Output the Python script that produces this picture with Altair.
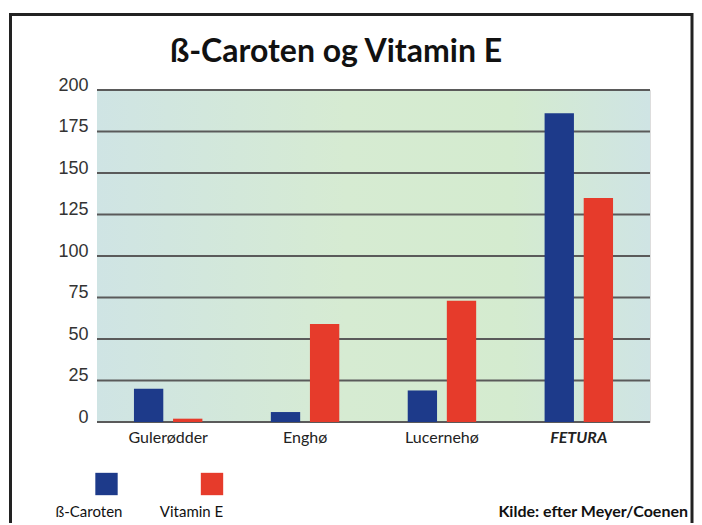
import altair as alt
import pandas as pd

categories = ["Gulerødder", "Enghø", "Lucernehø", "FETURA"]
series_names = ["ß-Caroten", "Vitamin E"]
beta_caroten = [20, 6, 19, 186]
vitamin_e = [2, 59, 73, 135]
y_ticks = [0, 25, 50, 75, 100, 125, 150, 175, 200]
colors = ["#1d3a8a", "#e63b2b"]
title_text = "ß-Caroten og Vitamin E"
source_text = "Kilde: efter Meyer/Coenen"

W, H = 553, 332
FONT = "Lato"

rows = []
for c, b, v in zip(categories, beta_caroten, vitamin_e):
    rows.append({"kategori": c, "serie": series_names[0], "verdi": b})
    rows.append({"kategori": c, "serie": series_names[1], "verdi": v})
df = pd.DataFrame(rows)
grid_df = pd.DataFrame({"v": y_ticks})
one = pd.DataFrame({"a": [0]})

yscale = alt.Scale(domain=[0, 200], nice=False)
yaxis = alt.Axis(values=y_ticks, grid=False, domain=False, ticks=False,
                 labelFont="Liberation Sans", labelFontSize=18, labelColor="#333333",
                 labelBaseline="alphabetic", labelPadding=9, title=None)

bg = alt.Chart(one).mark_rect(
    fill=alt.LinearGradient(
        gradient="linear", x1=0, x2=1, y1=0, y2=0,
        stops=[alt.GradientStop(color="#cfe4e4", offset=0),
               alt.GradientStop(color="#d6ebd2", offset=0.45),
               alt.GradientStop(color="#d4ebcf", offset=0.75),
               alt.GradientStop(color="#cfe4e4", offset=1)])
).encode(x=alt.value(0), x2=alt.value(W), y=alt.value(0), y2=alt.value(H))

grid = alt.Chart(grid_df).mark_rule(color="#5a5a5a", strokeWidth=2).encode(
    y=alt.Y("v:Q", scale=yscale, axis=yaxis)
)

bars = alt.Chart(df).mark_bar().encode(
    x=alt.X("kategori:N", sort=categories,
            scale=alt.Scale(paddingInner=0.5, paddingOuter=0.27),
            axis=alt.Axis(title=None, domain=False, ticks=False, labelAngle=0,
                          labelFont=FONT, labelFontSize=16, labelColor="#222",
                          labelPadding=7,
                          labelFontStyle={"condition": {"test": "datum.value == 'FETURA'", "value": "italic"}, "value": "normal"},
                          labelFontWeight={"condition": {"test": "datum.value == 'FETURA'", "value": "bold"}, "value": "normal"})),
    xOffset=alt.XOffset("serie:N", sort=series_names,
                        scale=alt.Scale(paddingInner=0.25, paddingOuter=0)),
    y=alt.Y("verdi:Q", scale=yscale, axis=yaxis),
    color=alt.Color("serie:N", scale=alt.Scale(domain=series_names, range=colors), legend=None),
)

title = alt.Chart(one).mark_text(
    text=title_text, font=FONT, fontSize=32, fontWeight="bold", color="#111",
    align="center", baseline="alphabetic"
).encode(x=alt.value(239), y=alt.value(-28))

source = alt.Chart(one).mark_text(
    text=source_text, font=FONT, fontSize=16, fontWeight="bold", color="#111",
    align="right", baseline="alphabetic"
).encode(x=alt.value(591), y=alt.value(427))

legend_layers = []
leg_sq_x = [9.5, 115]
leg_txt_x = [-8, 94.5]
for i, name in enumerate(series_names):
    legend_layers.append(
        alt.Chart(one).mark_square(size=500, opacity=1, color=colors[i]).encode(
            x=alt.value(leg_sq_x[i]), y=alt.value(394))
    )
    legend_layers.append(
        alt.Chart(one).mark_text(text=name, font=FONT, fontSize=15, color="#111",
                                 align="center", baseline="alphabetic").encode(
            x=alt.value(leg_txt_x[i]), y=alt.value(427))
    )

frame = alt.Chart(one).mark_rect(filled=False, stroke="#222", strokeWidth=3).encode(
    x=alt.value(-86.5), x2=alt.value(595), y=alt.value(-75.5), y2=alt.value(450)
)

chart = alt.layer(bg, grid, bars, title, source, *legend_layers, frame).properties(
    width=W, height=H,
    autosize=alt.AutoSizeParams(type="none"),
    padding={"left": 89, "top": 82, "right": 44, "bottom": 101},
).configure_view(stroke=None).configure(background="white")

chart.save("out.html", embed_options={"renderer": "svg", "actions": False})
